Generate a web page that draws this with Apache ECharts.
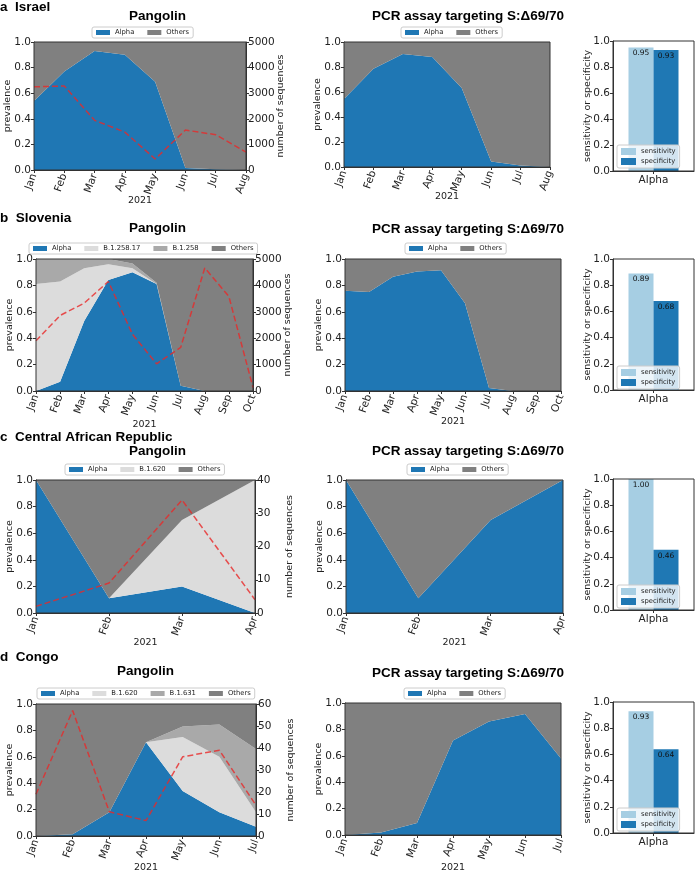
<!DOCTYPE html>
<html><head><meta charset="utf-8">
<script src="https://cdn.jsdelivr.net/npm/echarts@6/dist/echarts.min.js"></script>
<style>html,body{margin:0;padding:0;background:#fff}#c{width:695px;height:874px}</style>
</head><body><div id="c"></div>
<script>
// ---------------- DATA ----------------
const israelMonths = ['Jan','Feb','Mar','Apr','May','Jun','Jul','Aug'];
const israelPangolinAlpha  = [0.54, 0.77, 0.93, 0.90, 0.69, 0.016, 0.005, 0.0];
const israelPangolinOthers = [0.46, 0.23, 0.07, 0.10, 0.31, 0.984, 0.995, 1.0];
const israelSequences = [3250, 3280, 1940, 1480, 430, 1560, 1380, 700];
const israelPcrAlpha  = [0.544, 0.787, 0.905, 0.88, 0.632, 0.045, 0.013, 0.0];
const israelPcrOthers = [0.456, 0.213, 0.095, 0.12, 0.368, 0.955, 0.987, 1.0];
const israelAccuracy = [0.95, 0.93];

const sloveniaMonths = ['Jan','Feb','Mar','Apr','May','Jun','Jul','Aug','Sep','Oct'];
const sloveniaPangolinAlpha   = [0.0, 0.07, 0.53, 0.84, 0.90, 0.81, 0.04, 0.0, 0.0, 0.0];
const sloveniaPangolinB125817 = [0.81, 0.76, 0.40, 0.12, 0.03, 0.0, 0.0, 0.0, 0.0, 0.0];
const sloveniaPangolinB1258   = [0.19, 0.17, 0.07, 0.04, 0.035, 0.01, 0.0, 0.0, 0.0, 0.0];
const sloveniaPangolinOthers  = [0.0, 0.0, 0.0, 0.0, 0.035, 0.18, 0.96, 1.0, 1.0, 1.0];
const sloveniaSequences = [1900, 2860, 3330, 4150, 2150, 1030, 1650, 4660, 3580, 130];
const sloveniaPcrAlpha  = [0.76, 0.75, 0.865, 0.905, 0.915, 0.665, 0.023, 0.0, 0.0, 0.0];
const sloveniaPcrOthers = [0.24, 0.25, 0.135, 0.095, 0.085, 0.335, 0.977, 1.0, 1.0, 1.0];
const sloveniaAccuracy = [0.89, 0.68];

const carMonths = ['Jan','Feb','Mar','Apr'];
const carPangolinAlpha  = [1.0, 0.11, 0.20, 0.0];
const carPangolinB1620  = [0.0, 0.0, 0.50, 1.0];
const carPangolinOthers = [0.0, 0.89, 0.30, 0.0];
const carSequences = [2, 9, 34, 4];
const carPcrAlpha  = [1.0, 0.11, 0.70, 1.0];
const carPcrOthers = [0.0, 0.89, 0.30, 0.0];
const carAccuracy = [1.00, 0.46];

const congoMonths = ['Jan','Feb','Mar','Apr','May','Jun','Jul'];
const congoPangolinAlpha  = [0.0, 0.013, 0.18, 0.71, 0.34, 0.18, 0.07];
const congoPangolinB1620  = [0.0, 0.0, 0.0, 0.0, 0.41, 0.42, 0.11];
const congoPangolinB1631  = [0.0, 0.0, 0.0, 0.0, 0.08, 0.245, 0.48];
const congoPangolinOthers = [1.0, 0.987, 0.82, 0.29, 0.17, 0.155, 0.34];
const congoSequences = [19, 57, 11, 7, 36, 39, 14];
const congoPcrAlpha  = [0.0, 0.018, 0.09, 0.715, 0.86, 0.917, 0.58];
const congoPcrOthers = [1.0, 0.982, 0.91, 0.285, 0.14, 0.083, 0.42];
const congoAccuracy = [0.93, 0.64];

const accuracyCategories = ['Alpha'];
const accuracyNames = ['sensitivity', 'specificity'];

// ---------------- STYLE / LAYOUT ----------------
const FONT = "'DejaVu Sans', sans-serif";
const TFONT = "'Liberation Sans', Arial, sans-serif";
const COL = {
  'Alpha':'#1f77b4', 'Others':'#808080',
  'B.1.258.17':'#dcdcdc', 'B.1.258':'#a9a9a9',
  'B.1.620':'#dcdcdc', 'B.1.631':'#a9a9a9',
  'sensitivity':'#a6cee3', 'specificity':'#1f78b4',
  seq:'rgba(232,40,40,0.8)'
};

const rows = [
  { letter:'a  Israel', letterTop:0, months:israelMonths,
    pango:[['Alpha',israelPangolinAlpha],['Others',israelPangolinOthers]], seq:israelSequences, seqMax:5000, seqInt:1000,
    pcr:[['Alpha',israelPcrAlpha],['Others',israelPcrOthers]], acc:israelAccuracy,
    pT:[129,9], cT:[372,9], pG:[34,42,212,128], cG:[344,42,206,125], bG:[613,41,81,130],
    pL:[92,27], cL:[401,27], bL:[617,145], pNG:26, cNG:25 },
  { letter:'b  Slovenia', letterTop:211, months:sloveniaMonths,
    pango:[['Alpha',sloveniaPangolinAlpha],['B.1.258.17',sloveniaPangolinB125817],['B.1.258',sloveniaPangolinB1258],['Others',sloveniaPangolinOthers]], seq:sloveniaSequences, seqMax:5000, seqInt:1000,
    pcr:[['Alpha',sloveniaPcrAlpha],['Others',sloveniaPcrOthers]], acc:sloveniaAccuracy,
    pT:[129,221], cT:[372,222], pG:[36,259,217,132], cG:[345,259,216,132], bG:[613,259,81,131],
    pL:[29,243], cL:[405,243], bL:[617,366], pNG:29, cNG:26 },
  { letter:'c  Central African Republic', letterTop:430, months:carMonths,
    pango:[['Alpha',carPangolinAlpha],['B.1.620',carPangolinB1620],['Others',carPangolinOthers]], seq:carSequences, seqMax:40, seqInt:10,
    pcr:[['Alpha',carPcrAlpha],['Others',carPcrOthers]], acc:carAccuracy,
    pT:[129,444], cT:[372,444], pG:[36,480,219,133], cG:[346,480,217,133], bG:[613,479,81,131],
    pL:[65,464], cL:[407,464], bL:[617,585], pNG:25, cNG:25 },
  { letter:'d  Congo', letterTop:650, months:congoMonths,
    pango:[['Alpha',congoPangolinAlpha],['B.1.620',congoPangolinB1620],['B.1.631',congoPangolinB1631],['Others',congoPangolinOthers]], seq:congoSequences, seqMax:60, seqInt:10,
    pcr:[['Alpha',congoPcrAlpha],['Others',congoPcrOthers]], acc:congoAccuracy,
    pT:[117,664], cT:[372,666], pG:[36,704,220,134], cG:[345,703,216,132], bG:[613,702,81,131],
    pL:[37,688], cL:[404,688], bL:[617,808], pNG:27, cNG:28 }
];

const option = {animation:false, backgroundColor:'#fff', title:[], legend:[], grid:[], xAxis:[], yAxis:[], series:[]};
const txt = (s)=>Object.assign({fontSize:10.5, color:'#222', fontFamily:FONT}, s||{});
const nameTxt = ()=>({fontSize:9.5, color:'#222', fontFamily:FONT});

function addGrid(r){
  option.grid.push({left:r[0], top:r[1], width:r[2], height:r[3], show:true, z:10,
    backgroundColor:'transparent', borderColor:'#333', borderWidth:1});
  return option.grid.length-1;
}
function addTitle(text, left, top, size){
  option.title.push({text, left, top, padding:0,
    textStyle:{fontSize:size, fontWeight:'bold', fontFamily:TFONT, color:'#000'}});
}
function addLegend(names, pos, vertical){
  option.legend.push({data:names, left:pos[0], top:pos[1], orient: vertical?'vertical':'horizontal',
    icon:'rect', itemWidth: vertical?15:14, itemHeight: vertical?7:5, itemGap: vertical?3:13, itemTextGap:4,
    padding: vertical?[3,4]:[2,4], borderColor:'#ccc', borderWidth:1, borderRadius:2,
    backgroundColor:'rgba(255,255,255,0.8)', selectedMode:false, z:20,
    textStyle:txt({fontSize:6.8})});
}
function catAxis(gi, months, nameGap){
  option.xAxis.push({type:'category', gridIndex:gi, data:months, boundaryGap:false,
    axisLine:{show:true, lineStyle:{color:'#333'}}, axisTick:{show:true, length:3, lineStyle:{color:'#333'}},
    axisLabel:txt({interval:0, rotate:70, margin:4}), splitLine:{show:false},
    name:'2021', nameLocation:'middle', nameGap, nameMoveOverlap:false, nameTextStyle:nameTxt()});
  return option.xAxis.length-1;
}
function valAxis(gi, pos, max, interval, name, gap, fmt, margin){
  option.yAxis.push({type:'value', gridIndex:gi, position:pos, min:0, max, interval,
    axisLine:{show:true, lineStyle:{color:'#333'}}, axisTick:{show:true, length:3, lineStyle:{color:'#333'}},
    axisLabel:txt({margin:margin, formatter:fmt}), splitLine:{show:false},
    name, nameLocation:'middle', nameRotate:90, nameGap:gap, nameMoveOverlap:false, nameTextStyle:nameTxt()});
  return option.yAxis.length-1;
}
const f1 = v => v.toFixed(1);

function addStack(list, xi, yi, stackId){
  list.forEach(([name, data]) => {
    option.series.push({type:'line', name, data, xAxisIndex:xi, yAxisIndex:yi, stack:stackId,
      symbol:'none', lineStyle:{width:0}, itemStyle:{color:COL[name]},
      areaStyle:{color:COL[name], opacity:1}, emphasis:{disabled:true}, z:2});
  });
}

rows.forEach((r, i) => {
  addTitle(r.letter, 0, r.letterTop, 13.5);
  addTitle('Pangolin', r.pT[0], r.pT[1], 13.5);
  addTitle('PCR assay targeting S:\u039469/70', r.cT[0], r.cT[1], 13.5);

  // Pangolin panel
  const g1 = addGrid(r.pG);
  const x1 = catAxis(g1, r.months, r.pNG);
  const y1 = valAxis(g1, 'left', 1, 0.2, 'prevalence', 21, f1, 3);
  const y1r = valAxis(g1, 'right', r.seqMax, r.seqInt, 'number of sequences', 30, v => String(v), 2);
  addStack(r.pango, x1, y1, 'p'+i);
  option.series.push({type:'line', name:'sequences', data:r.seq, xAxisIndex:x1, yAxisIndex:y1r,
    symbol:'none', lineStyle:{type:[6,3], width:1.5, color:COL.seq}, itemStyle:{color:COL.seq}, z:5,
    emphasis:{disabled:true}});
  addLegend(r.pango.map(d=>d[0]), r.pL, false);

  // PCR panel
  const g2 = addGrid(r.cG);
  const x2 = catAxis(g2, r.months, r.cNG);
  const y2 = valAxis(g2, 'left', 1, 0.2, 'prevalence', 21, f1, 3);
  addStack(r.pcr, x2, y2, 'c'+i);
  addLegend(r.pcr.map(d=>d[0]), r.cL, false);

  // accuracy bar panel
  const g3 = addGrid(r.bG);
  option.xAxis.push({type:'category', gridIndex:g3, data:accuracyCategories,
    axisLine:{show:true, lineStyle:{color:'#333'}}, axisTick:{show:true, alignWithLabel:true, length:3, lineStyle:{color:'#333'}},
    axisLabel:txt({margin:4}), splitLine:{show:false}});
  const x3 = option.xAxis.length-1;
  const y3 = valAxis(g3, 'left', 1, 0.2, 'sensitivity or specificity', 20, f1, 3);
  accuracyNames.forEach((nm, k) => {
    option.series.push({type:'bar', name:nm, data:[r.acc[k]], xAxisIndex:x3, yAxisIndex:y3,
      barWidth:25, barGap:'0%', itemStyle:{color:COL[nm]}, emphasis:{disabled:true},
      label:{show:true, position:'insideTop', distance:2, fontSize:7.5, color:'#111', fontFamily:FONT,
        formatter: p => p.value.toFixed(2)}});
  });
  addLegend(accuracyNames, r.bL, true);
});

const chart = echarts.init(document.getElementById('c'), null, {renderer:'canvas'});
chart.setOption(option);
</script></body></html>
